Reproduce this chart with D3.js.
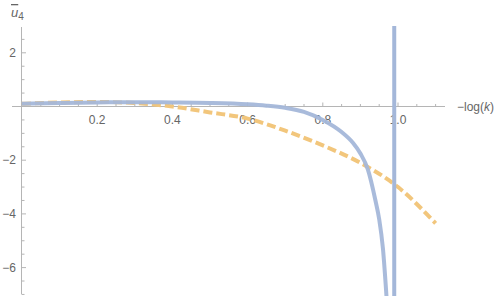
<!DOCTYPE html>
<html>
<head>
<meta charset="utf-8">
<script src="https://cdn.jsdelivr.net/npm/d3@7"></script>
<style>
  body { margin: 0; background: #fff; }
  text { font-family: "Liberation Sans", Arial, sans-serif; fill: #666; }
</style>
</head>
<body>
<div id="chart"></div>
<script>
// values
const blueX = [0, 0.1, 0.2, 0.3, 0.4, 0.5, 0.6, 0.65, 0.7, 0.75, 0.8, 0.85, 0.88, 0.9, 0.92, 0.94, 0.95, 0.96, 0.97]
const blueY = [0.1, 0.13, 0.15, 0.16, 0.15, 0.13, 0.08, 0.03, -0.05, -0.2, -0.5, -0.95, -1.35, -1.75, -2.35, -3.5, -4.2, -5.3, -7.2]
const poleX = 0.99
const poleY = [3.0, -7.2]
const orangeX = [0, 0.1, 0.2, 0.3, 0.4, 0.5, 0.6, 0.7, 0.8, 0.9, 1.0, 1.1]
const orangeY = [0.1, 0.15, 0.17, 0.13, 0.0, -0.22, -0.45, -0.9, -1.45, -2.1, -3.0, -4.35]
const xTicks = [0.2, 0.4, 0.6, 0.8, 1.0]
const yTicks = [2, -2, -4, -6]

const width = 500
const height = 296

const x = d3.scaleLinear().domain([0, 1]).range([22, 398])
const y = d3.scaleLinear().domain([0, -2]).range([106.5, 160.2])

const svg = d3.select('#chart')
  .append('svg')
  .attr('width', width)
  .attr('height', height)

const axisColor = '#b5b5b5'

// x axis
svg.append('line')
  .attr('x1', 12).attr('x2', 445)
  .attr('y1', y(0)).attr('y2', y(0))
  .attr('stroke', axisColor)

const xMinor = d3.range(1, 23).map(i => i * 0.05)
svg.selectAll('.xt')
  .data(xMinor)
  .enter()
  .append('line')
  .attr('x1', d => x(d)).attr('x2', d => x(d))
  .attr('y1', y(0))
  .attr('y2', (d, i) => (i + 1) % 4 === 0 ? y(0) - 4 : y(0) - 2.5)
  .attr('stroke', axisColor)

svg.selectAll('.xl')
  .data(xTicks)
  .enter()
  .append('text')
  .attr('x', d => x(d))
  .attr('y', y(0) + 17)
  .attr('text-anchor', 'middle')
  .attr('font-size', 12)
  .text(d => d.toFixed(1))

const xl = svg.append('text')
  .attr('x', 457).attr('y', y(0) + 4)
  .attr('font-size', 12)
xl.append('tspan').text('\u2212log(')
xl.append('tspan').attr('font-style', 'italic').text('k')
xl.append('tspan').text(')')

// y axis
svg.append('line')
  .attr('x1', x(0) - 0.5).attr('x2', x(0) - 0.5)
  .attr('y1', 27).attr('y2', 294)
  .attr('stroke', axisColor)

const yMinor = d3.range(-14, 6).map(i => i * 0.5).filter(d => d !== 0)
svg.selectAll('.yt')
  .data(yMinor)
  .enter()
  .append('line')
  .attr('x1', x(0) - 0.5)
  .attr('x2', d => d % 2 === 0 ? x(0) + 4 : x(0) + 2.5)
  .attr('y1', d => y(d)).attr('y2', d => y(d))
  .attr('stroke', axisColor)

svg.selectAll('.yl')
  .data(yTicks)
  .enter()
  .append('text')
  .attr('x', 16)
  .attr('y', d => y(d) + 4)
  .attr('text-anchor', 'end')
  .attr('font-size', 12)
  .text(d => d < 0 ? '\u2212' + Math.abs(d) : d)

const yl = svg.append('text')
  .attr('x', 11).attr('y', 17)
  .attr('font-size', 13)
yl.append('tspan').attr('font-style', 'italic').attr('text-decoration', 'overline').text('u')
yl.append('tspan').attr('font-size', 10).attr('dy', 3).text('4')

// curves
const line = d3.line()
  .x(d => x(d[0]))
  .y(d => y(d[1]))
  .curve(d3.curveMonotoneX)

svg.append('clipPath').attr('id', 'clip')
  .append('rect').attr('x', 0).attr('y', 0).attr('width', width).attr('height', height)

svg.append('path')
  .datum(orangeX.map((d, i) => [d, orangeY[i]]))
  .attr('d', line)
  .attr('fill', 'none')
  .attr('stroke', '#f2c67c')
  .attr('stroke-width', 4)
  .attr('stroke-dasharray', '9,4')

svg.append('path')
  .datum(blueX.map((d, i) => [d, blueY[i]]))
  .attr('d', line)
  .attr('clip-path', 'url(#clip)')
  .attr('fill', 'none')
  .attr('stroke', '#a4b7d9')
  .attr('stroke-width', 4)
  .attr('opacity', 0.95)

svg.append('line')
  .attr('x1', x(poleX)).attr('x2', x(poleX))
  .attr('y1', y(poleY[0])).attr('y2', y(poleY[1]))
  .attr('stroke', '#a4b7d9')
  .attr('stroke-width', 4)
</script>
</body>
</html>
